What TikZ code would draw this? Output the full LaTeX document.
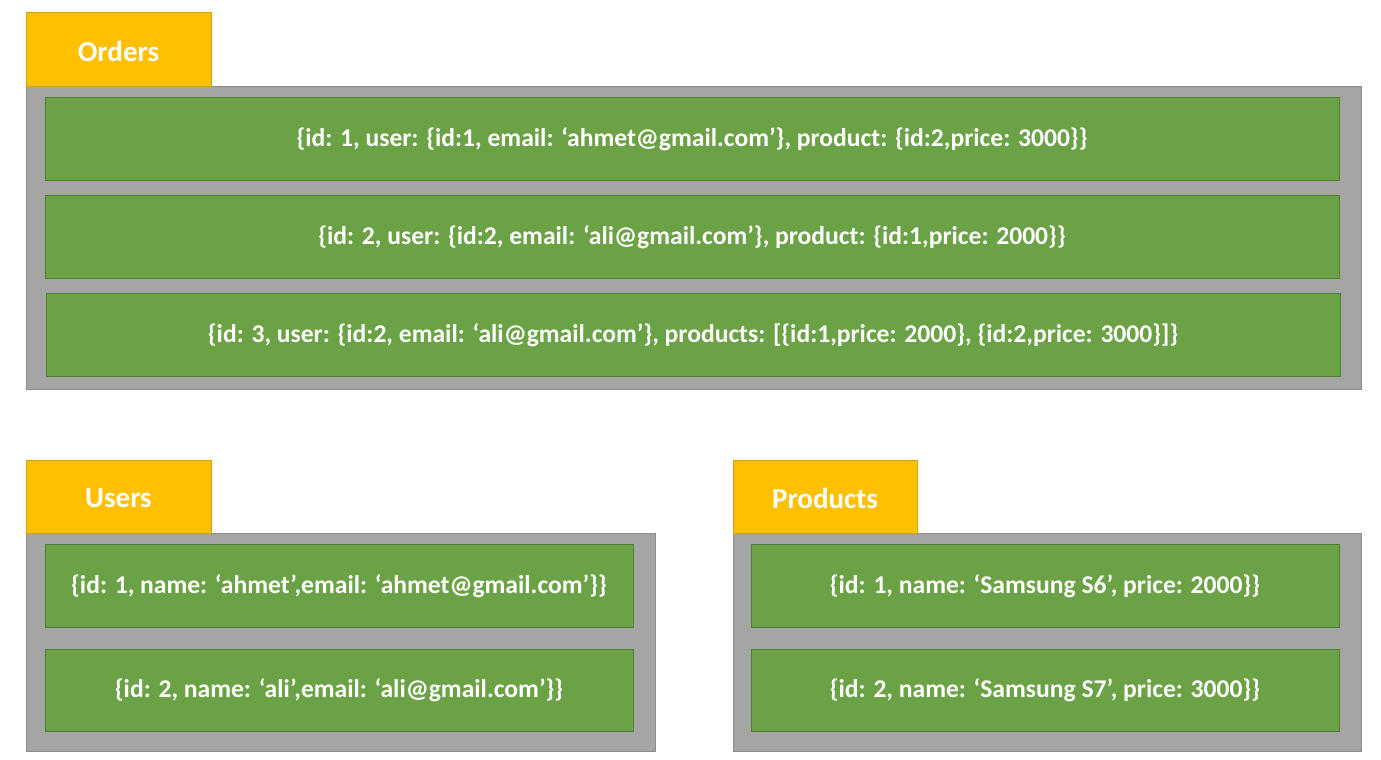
\documentclass[tikz,border=0pt]{standalone}
\usepackage{fontspec}
\setmainfont{Carlito}
\definecolor{tabfill}{HTML}{FFC000}
\definecolor{tabline}{HTML}{D4A017}
\definecolor{boxfill}{HTML}{A5A5A5}
\definecolor{boxline}{HTML}{8C8C8C}
\definecolor{rowfill}{HTML}{6AA245}
\definecolor{rowline}{HTML}{4F7E30}
\begin{document}
\begin{tikzpicture}[x=1pt,y=-1pt,
  tabbox/.style={fill=tabfill,draw=tabline,line width=1pt},
  graybox/.style={fill=boxfill,draw=boxline,line width=1pt},
  rowbox/.style={fill=rowfill,draw=rowline,line width=1pt},
  tabtext/.style={text=white,font=\fontsize{29}{33}\selectfont\bfseries},
  rowtext/.style={text=white,font=\fontsize{25.6}{29}\selectfont\bfseries}]
\useasboundingbox (0,0) rectangle (1381,760);
% Orders
\draw[graybox] (26,86) rectangle (1361,389);
\draw[tabbox] (26,13) rectangle (211,86);
\node[tabtext] (orders) at (118.5,51) {Orders};
\draw[rowbox] (45,97) rectangle (1339,180);
\node[rowtext] (o1) at (692,139) {\{id: 1, user: \{id:1, email: ‘ahmet@gmail.com’\}, product: \{id:2,price: 3000\}\}};
\draw[rowbox] (45,195) rectangle (1339,278);
\node[rowtext] (o2) at (692,237) {\{id: 2, user: \{id:2, email: ‘ali@gmail.com’\}, product: \{id:1,price: 2000\}\}};
\draw[rowbox] (46,293) rectangle (1340,376);
\node[rowtext] (o3) at (693,335) {\{id: 3, user: \{id:2, email: ‘ali@gmail.com’\}, products: [\{id:1,price: 2000\}, \{id:2,price: 3000\}]\}};
% Users
\draw[graybox] (26,533) rectangle (655,751);
\draw[tabbox] (26,460) rectangle (211,533);
\node[tabtext] (users) at (118.5,498) {Users};
\draw[rowbox] (45,544) rectangle (633,627);
\node[rowtext] (u1) at (339,586) {\{id: 1, name: ‘ahmet’,email: ‘ahmet@gmail.com’\}\}};
\draw[rowbox] (45,649) rectangle (633,731);
\node[rowtext] (u2) at (339,690) {\{id: 2, name: ‘ali’,email: ‘ali@gmail.com’\}\}};
% Products
\draw[graybox] (733,533) rectangle (1361,751);
\draw[tabbox] (733,460) rectangle (917,533);
\node[tabtext] (products) at (825,498) {Products};
\draw[rowbox] (751,544) rectangle (1339,627);
\node[rowtext] (p1) at (1045,586) {\{id: 1, name: ‘Samsung S6’, price: 2000\}\}};
\draw[rowbox] (751,649) rectangle (1339,731);
\node[rowtext] (p2) at (1045,690) {\{id: 2, name: ‘Samsung S7’, price: 3000\}\}};
\end{tikzpicture}
\end{document}
